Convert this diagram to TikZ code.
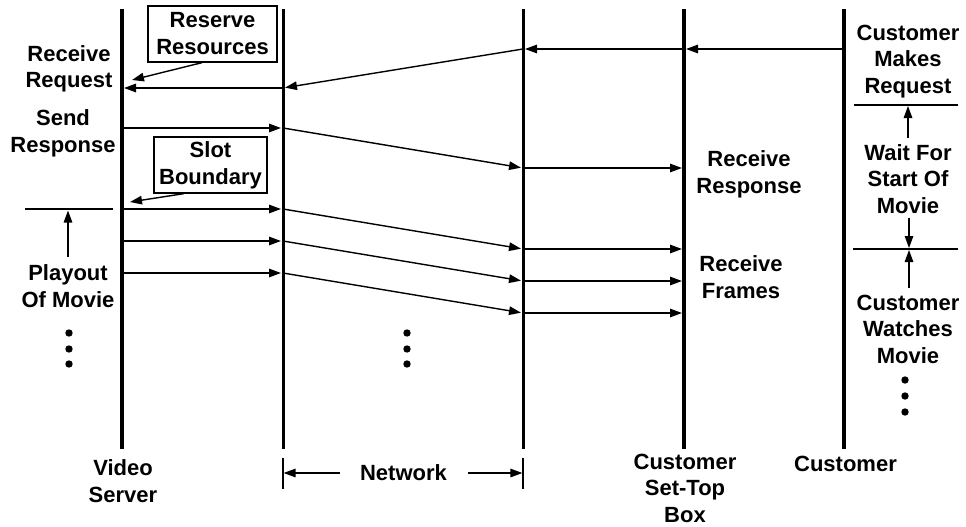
\documentclass[tikz,border=0pt]{standalone}
\usepackage{fontspec}
\setmainfont{Liberation Sans}
\usetikzlibrary{arrows.meta}
\begin{document}
\begin{tikzpicture}[x=1pt,y=-1pt,
  life/.style={line width=4.3pt},
  netline/.style={line width=3pt},
  msg/.style={line width=1.4pt,-{Triangle[length=12pt,width=8.5pt]},shorten >=2pt},
  tick/.style={line width=1.3pt},
  lbl/.style={font=\fontsize{22}{26.5}\selectfont\bfseries,align=center,anchor=base,inner sep=0pt},
  notebox/.style={draw,line width=1.3pt,font=\fontsize{22}{27}\selectfont\bfseries,align=center,inner sep=0pt},
  dotnode/.style={circle,fill=black,inner sep=0pt,minimum size=7.4pt}]
\useasboundingbox (0,0) rectangle (966,527);

% lifelines
\coordinate (vsT) at (122,9);  \coordinate (vsB) at (122,449);
\coordinate (n1T) at (283,9);  \coordinate (n1B) at (283,449);
\coordinate (n2T) at (523,9);  \coordinate (n2B) at (523,449);
\coordinate (stT) at (684,9);  \coordinate (stB) at (684,449);
\coordinate (cuT) at (844,9);  \coordinate (cuB) at (844,449);
\draw[life] (vsT) -- (vsB);
\draw[netline] (n1T) -- (n1B);
\draw[netline] (n2T) -- (n2B);
\draw[life] (stT) -- (stB);
\draw[life] (cuT) -- (cuB);

% request
\coordinate (r0) at (844,49); \coordinate (r1) at (684,49);
\coordinate (r2) at (523,49); \coordinate (r3) at (283,88);
\coordinate (r4) at (122,88);
\draw[msg] (r0) -- (r1);
\draw[msg] (r1) -- (r2);
\draw[msg] (r2) -- (r3);
\draw[msg] (r3) -- (r4);

% response
\coordinate (s0) at (122,128); \coordinate (s1) at (283,128);
\coordinate (s2) at (523,168); \coordinate (s3) at (684,168);
\draw[msg] (s0) -- (s1);
\draw[msg] (s1) -- (s2);
\draw[msg] (s2) -- (s3);

% frames
\foreach \i/\y in {1/209,2/241,3/273}{
  \coordinate (fa\i) at (122,\y);
  \coordinate (fb\i) at (283,\y);
  \coordinate (fc\i) at (523,\y+40);
  \coordinate (fd\i) at (684,\y+40);
  \draw[msg] (fa\i) -- (fb\i);
  \draw[msg] (fb\i) -- (fc\i);
  \draw[msg] (fc\i) -- (fd\i);
}

% boxes
\node[notebox,minimum width=129pt,minimum height=56pt] (rr) at (212.5,34) {Reserve\\Resources};
\coordinate (rrt) at (132,80);
\draw[msg,shorten >=0pt] (rr.250) -- (rrt);
\node[notebox,minimum width=113pt,minimum height=56pt] (sb) at (210.5,165) {Slot\\Boundary};
\coordinate (sbt) at (130,202);
\draw[msg,shorten >=0pt] (sb.227.7) -- (sbt);

% left labels (anchor = baseline of last line)
\node[lbl] (recreq) at (69,88) {Receive\\Request};
\node[lbl] (sendresp) at (63,152) {Send\\Response};
\coordinate (slA) at (25,209); \coordinate (slB) at (113,209);
\draw[tick] (slA) -- (slB);
\node[lbl] (playout) at (68,307) {Playout\\Of Movie};
\coordinate (plT) at (68,210.5);
\coordinate (plB) at (68,257);
\draw[msg,line width=1.3pt,shorten >=0pt] (plB) -- (plT);

% right labels
\node[lbl] (recresp) at (749,193) {Receive\\Response};
\node[lbl] (recfr) at (741,298) {Receive\\Frames};
\node[lbl] (cmr) at (908,93) {Customer\\Makes\\Request};
\coordinate (c1A) at (854,105); \coordinate (c1B) at (958,105);
\draw[tick] (c1A) -- (c1B);
\node[lbl] (wait) at (908,213) {Wait For\\Start Of\\Movie};
\coordinate (w1) at (908,138); \coordinate (w1t) at (908,106);
\draw[msg,line width=1.3pt,shorten >=0pt] (w1) -- (w1t);
\coordinate (c2A) at (853,249); \coordinate (c2B) at (958,249);
\draw[tick] (c2A) -- (c2B);
\coordinate (w2) at (909,218); \coordinate (w2t) at (909,248);
\draw[msg,line width=1.3pt,shorten >=0pt] (w2) -- (w2t);
\coordinate (w3) at (909,288); \coordinate (w3t) at (909,250);
\draw[msg,line width=1.3pt,shorten >=0pt] (w3) -- (w3t);
\node[lbl] (watch) at (908,363) {Customer\\Watches\\Movie};

% dots
\foreach \y [count=\k] in {333,349,364}{
  \node[dotnode] (dl\k) at (69,\y) {};
  \node[dotnode] (dm\k) at (407,\y) {};
}
\foreach \y [count=\k] in {380,396,412}{
  \node[dotnode] (dr\k) at (905,\y) {};
}

% bottom labels
\node[lbl] (vs) at (123,502) {Video\\Server};
\node[lbl] (net) at (403.5,480) {Network};
\node[lbl] (stb) at (685,522) {Customer\\Set-Top\\Box};
\node[lbl] (cu) at (845.5,471) {Customer};
\coordinate (t1A) at (283,458); \coordinate (t1B) at (283,489);
\coordinate (t2A) at (523,458); \coordinate (t2B) at (523,489);
\draw[tick] (t1A) -- (t1B);
\draw[tick] (t2A) -- (t2B);
\coordinate (na) at (340,473); \coordinate (nat) at (283,473);
\coordinate (nb) at (468,473); \coordinate (nbt) at (523,473);
\draw[msg,line width=1.3pt,shorten >=0.6pt] (na) -- (nat);
\draw[msg,line width=1.3pt,shorten >=0.6pt] (nb) -- (nbt);
\end{tikzpicture}
\end{document}
